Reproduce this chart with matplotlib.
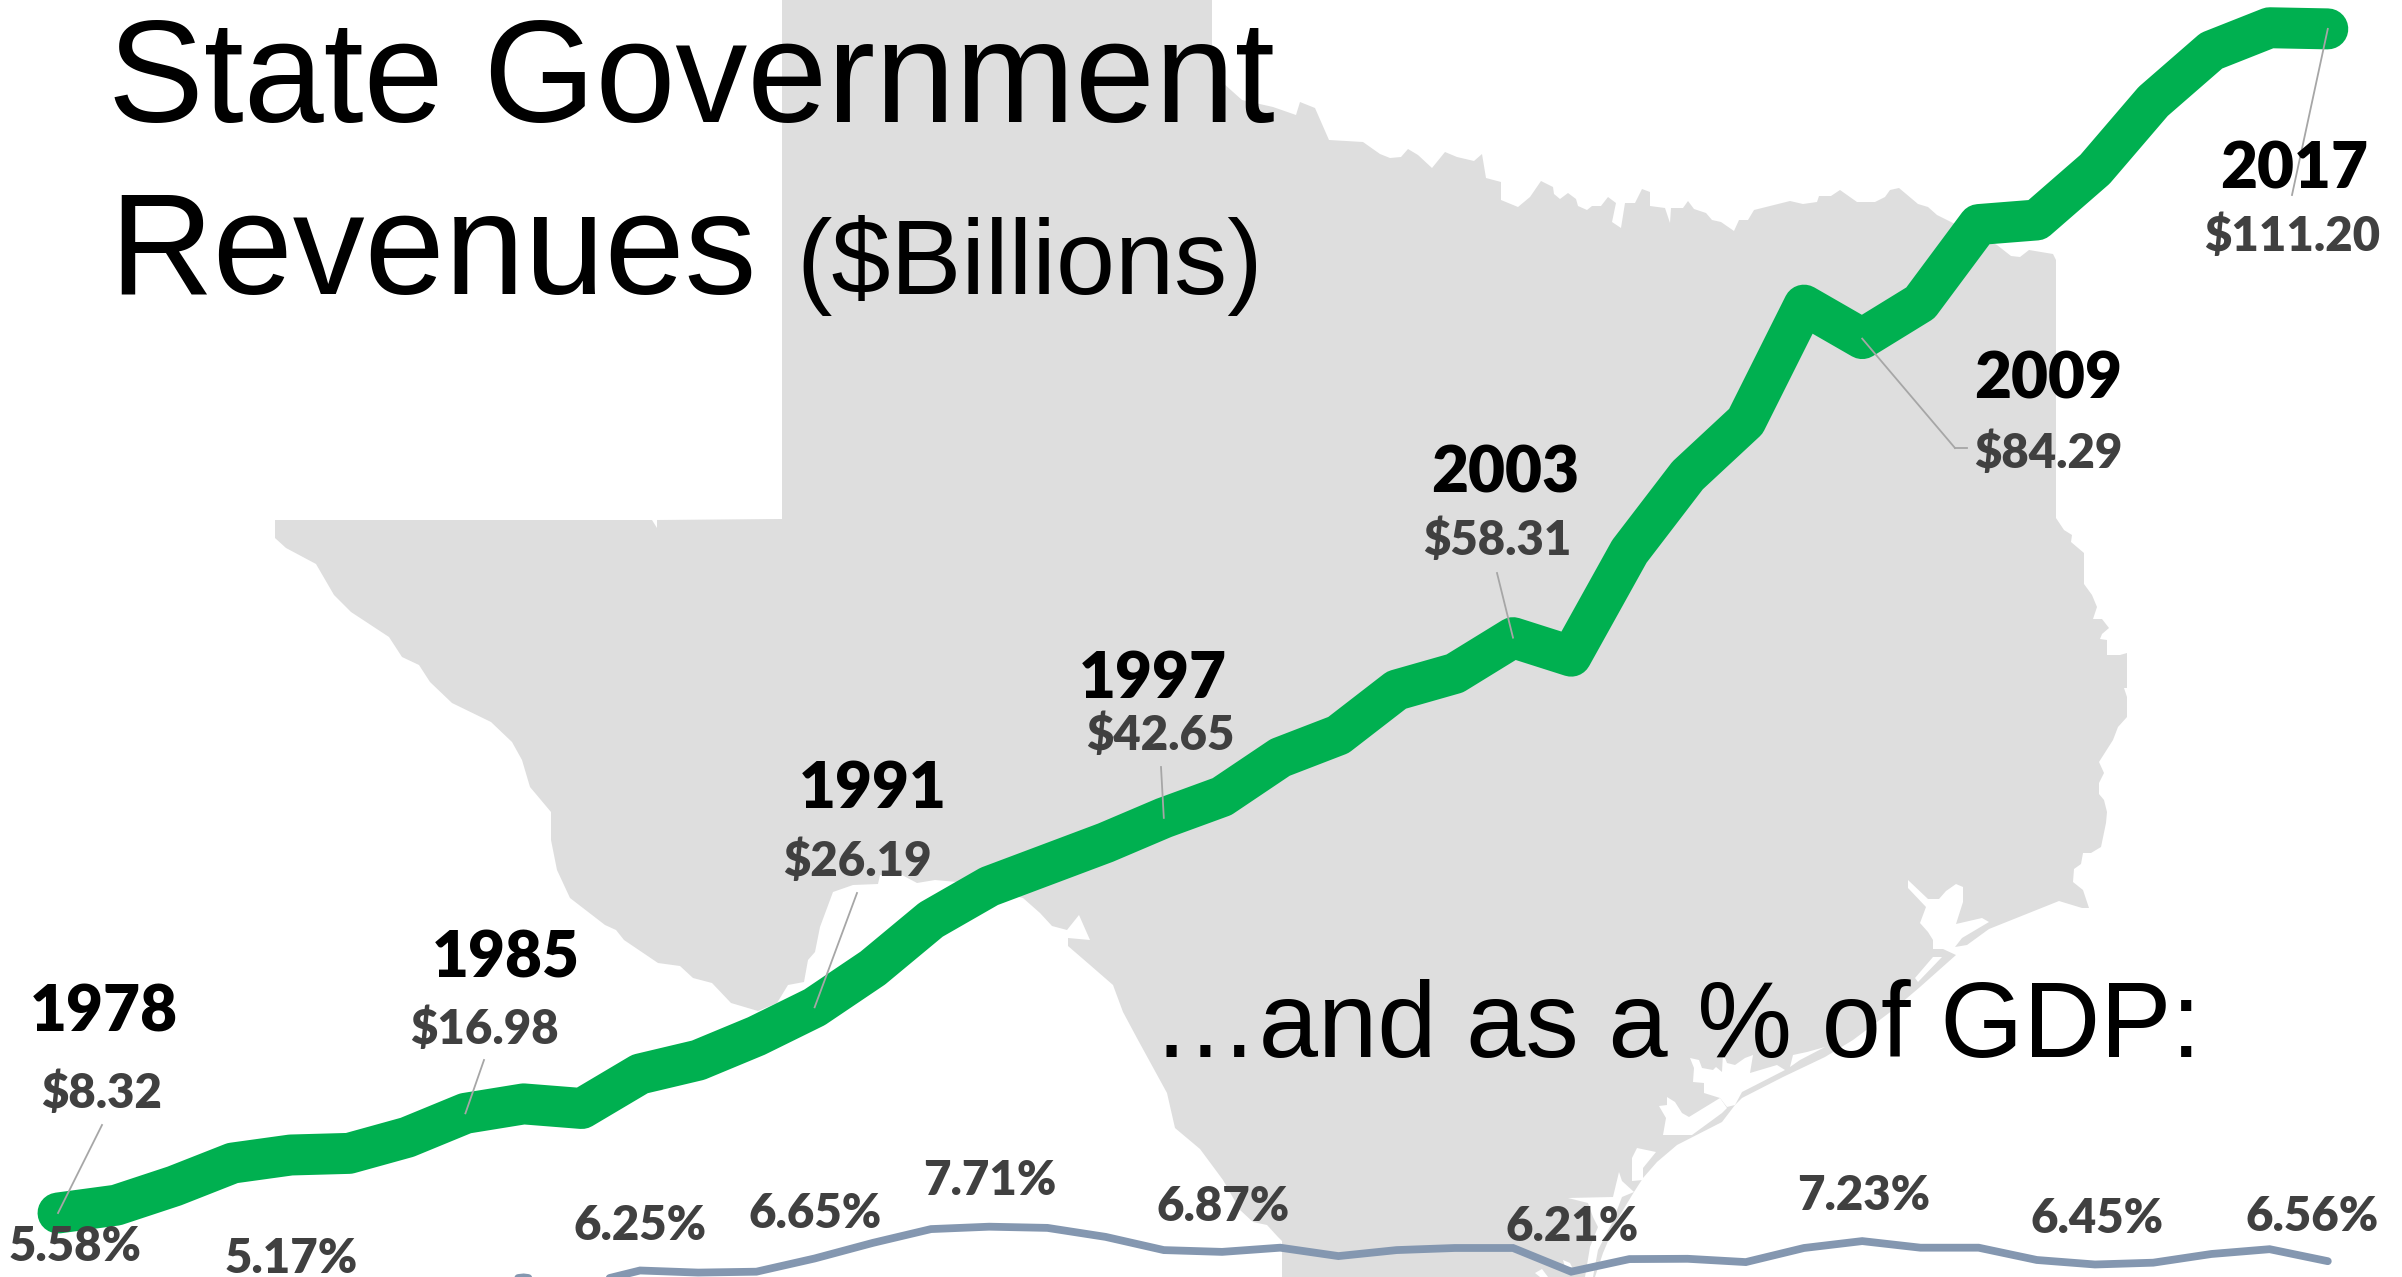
import matplotlib
matplotlib.use('Agg')
import matplotlib.pyplot as plt
from matplotlib.patches import Polygon

years = list(range(1978, 2018))

# state government revenues, $ billions
revenues = [8.32, 9.0, 10.67, 12.66, 13.36, 13.5, 14.9, 16.98, 17.8, 17.4,
            20.4, 21.6, 23.7, 26.19, 29.6, 33.8, 36.7, 38.6, 40.5, 42.65,
            44.5, 47.9, 49.85, 53.76, 55.2, 58.31, 56.7, 65.8, 72.4, 77.1,
            87.2, 84.29, 87.4, 94.2, 94.6, 99.0, 104.9, 109.3, 111.3, 111.20]

# same revenues as a share of GDP, %
gdp_share = [5.58, 5.45, 5.3, 5.17, 5.35, 5.45, 5.55, 5.8, 6.02, 5.77,
             6.25, 6.18, 6.21, 6.65, 7.17, 7.63, 7.71, 7.67, 7.37, 6.93,
             6.87, 7.01, 6.73, 6.93, 7.0, 7.0, 6.21, 6.63, 6.64, 6.53,
             7.0, 7.23, 7.01, 7.01, 6.6, 6.45, 6.51, 6.8, 6.96, 6.56]

revenue_label_years = [1978, 1985, 1991, 1997, 2003, 2009, 2017]
gdp_label_years = [1978, 1981, 1988, 1991, 1994, 1998, 2004, 2009, 2013, 2017]

# label centres and leader starts, in figure pixels
year_label_xy = [(104, 1013), (506, 959), (873, 790), (1153, 679), (1505, 474), (2048, 380), (2294, 170)]
value_label_xy = [(102, 1094), (484, 1030), (857, 862), (1160, 736), (1497, 541), (2048, 454), (2292, 237)]
leader_xy = [(102, 1125), (484, 1060), (857, 893), (1161, 767), (1497, 573), (1955, 448), (2292, 195)]
gdp_label_xy = [(75, 1247), (291, 1259), (640, 1226), (815, 1214), (990, 1181),
                (1223, 1207), (1572, 1227), (1864, 1196), (2097, 1219), (2312, 1217)]

# Texas outline behind the lines, in figure pixels
texas = [(782, 0), (1212, 0), (1212, 67), (1223, 83), (1242, 100), (1273, 107), (1296, 115), (1300, 102),
         (1315, 108), (1329, 140), (1363, 142), (1380, 154), (1390, 158), (1401, 157), (1408, 149), (1418, 155),
         (1432, 168), (1445, 152), (1457, 157), (1474, 161), (1482, 154), (1486, 178), (1501, 182), (1501, 200),
         (1518, 207), (1530, 197), (1541, 181), (1553, 187), (1554, 194), (1560, 199), (1568, 193), (1576, 199),
         (1578, 206), (1587, 210), (1592, 206), (1601, 206), (1608, 197), (1616, 203), (1612, 222), (1621, 228),
         (1625, 203), (1635, 203), (1642, 189), (1650, 192), (1650, 206), (1665, 208), (1670, 223), (1671, 208),
         (1683, 208), (1688, 201), (1694, 209), (1706, 213), (1712, 220), (1721, 222), (1734, 231), (1739, 220),
         (1748, 220), (1754, 210), (1790, 201), (1803, 204), (1817, 202), (1819, 196), (1831, 196), (1840, 190),
         (1857, 202), (1875, 202), (1885, 197), (1890, 190), (1899, 188), (1918, 204), (1928, 207), (1937, 215),
         (1967, 230), (1997, 245), (2011, 256), (2020, 257), (2029, 250), (2053, 254), (2056, 260), (2056, 518),
         (2064, 530), (2072, 535), (2071, 542), (2084, 553), (2084, 584), (2092, 595), (2097, 607), (2093, 619),
         (2102, 619), (2109, 628), (2102, 634), (2100, 639), (2107, 640), (2107, 655), (2120, 655), (2127, 653),
         (2127, 688), (2124, 688), (2127, 697), (2127, 717), (2118, 727), (2113, 740), (2099, 762), (2104, 773),
         (2099, 783), (2099, 794), (2104, 800), (2107, 812), (2106, 823), (2101, 847), (2091, 853), (2083, 853),
         (2081, 864), (2074, 869), (2073, 882), (2083, 890), (2089, 908), (2082, 908), (2059, 901), (1989, 929),
         (1967, 945), (1955, 947), (1962, 938), (1989, 922), (1982, 918), (1956, 924), (1963, 902), (1963, 887),
         (1956, 884), (1946, 891), (1939, 899), (1928, 899), (1908, 880), (1908, 888), (1926, 907), (1920, 923),
         (1928, 932), (1933, 940), (1933, 949), (1943, 949), (1956, 955), (1920, 987), (1893, 1010), (1853, 1040),
         (1825, 1057), (1783, 1077), (1742, 1098), (1735, 1105), (1722, 1122), (1677, 1145), (1657, 1162),
         (1643, 1178), (1634, 1192), (1617, 1220), (1603, 1253), (1595, 1277), (1282, 1277), (1282, 1241),
         (1278, 1237), (1267, 1225), (1253, 1222), (1240, 1210), (1223, 1180), (1200, 1149), (1175, 1128),
         (1167, 1093), (1138, 1040), (1123, 1012), (1113, 985), (1090, 965), (1068, 946), (1068, 938), (1090, 940),
         (1079, 915), (1067, 930), (1052, 926), (1040, 913), (1023, 898), (957, 882), (935, 880), (917, 883),
         (902, 875), (880, 875), (878, 884), (853, 885), (833, 892), (820, 927), (815, 952), (808, 960), (804, 982),
         (788, 985), (777, 1003), (758, 1011), (731, 1003), (712, 983), (693, 978), (680, 966), (658, 963),
         (624, 940), (616, 930), (605, 925), (570, 898), (557, 870), (551, 840), (551, 812), (530, 787), (522, 760),
         (512, 742), (491, 722), (452, 703), (430, 682), (419, 665), (402, 657), (389, 637), (351, 612), (334, 595),
         (316, 564), (286, 548), (275, 538), (275, 520), (652, 520), (657, 528), (657, 520), (782, 519)]

# bays and lagoons along the coast
bays = [
    [(1933, 957), (1942, 957), (1918, 982), (1915, 978)],
    [(1790, 1067), (1793, 1055), (1807, 1052), (1825, 1047), (1800, 1060)],
    [(1690, 1058), (1699, 1060), (1702, 1068), (1713, 1070), (1716, 1067), (1722, 1072), (1723, 1053), (1727, 1063),
     (1735, 1065), (1745, 1058), (1753, 1055), (1750, 1073), (1777, 1065), (1785, 1070), (1742, 1092), (1735, 1105),
     (1727, 1107), (1720, 1098), (1704, 1093), (1704, 1083), (1693, 1082), (1694, 1068)],
    [(1667, 1097), (1675, 1102), (1682, 1113), (1689, 1117), (1720, 1098), (1727, 1108), (1722, 1113), (1692, 1135),
     (1663, 1135), (1666, 1118), (1659, 1106), (1667, 1105)],
    [(1637, 1148), (1656, 1152), (1643, 1168), (1643, 1180), (1632, 1181), (1632, 1158)],
    [(1619, 1172), (1622, 1181), (1634, 1192), (1622, 1197), (1612, 1223), (1598, 1250), (1593, 1277), (1585, 1277),
     (1590, 1247), (1598, 1227), (1593, 1217), (1588, 1203), (1568, 1198), (1613, 1197)],
    [(1563, 1260), (1570, 1263), (1572, 1267), (1565, 1267)],
    [(1535, 1273), (1542, 1269), (1548, 1277), (1540, 1277)],
]

W, H = 2402, 1277
fig = plt.figure(figsize=(W / 100, H / 100), dpi=100, facecolor='white')


def layer(xlim, ylim):
    a = fig.add_axes([0, 0, 1, 1], facecolor='none')
    a.set_xlim(*xlim)
    a.set_ylim(*ylim)
    a.axis('off')
    return a


# map in pixel space
bg = layer((0, W), (H, 0))
bg.add_patch(Polygon(texas, closed=True, fc='#DEDEDE', ec='none'))
for bay in bays:
    bg.add_patch(Polygon(bay, closed=True, fc='white', ec='none'))

year_lim = (1977.003, 2018.275)

ax = layer(year_lim, (2.76, 113.71))
ax.plot(years, revenues, color='#00B050', lw=29.5, solid_capstyle='round', solid_joinstyle='round')

ax2 = layer(year_lim, (6.033, 48.6))
ax2.plot(years, gdp_share, color='#8497B0', lw=5.6, solid_capstyle='round', solid_joinstyle='miter')

# labels and leaders on top, pixel space again
top = layer((0, W), (H, 0))

title_font = 'Liberation Sans'
top.text(108, 122, 'State Government', family=title_font, fontsize=103.5, color='black', va='baseline')
top.text(109, 294, 'Revenues', family=title_font, fontsize=103.5, color='black', va='baseline')
top.text(796, 294, '($Billions)', family=title_font, fontsize=76.5, color='black', va='baseline')
top.text(1152, 1057, '…and as a % of GDP:', family=title_font, fontsize=76.8, color='black', va='baseline')

label_font = 'Lato'
for yr, yxy, vxy, lxy in zip(revenue_label_years, year_label_xy, value_label_xy, leader_xy):
    val = revenues[years.index(yr)]
    px = ax.transData.transform((yr, val))
    end = top.transData.inverted().transform(px)
    top.plot([lxy[0], end[0]], [lxy[1], end[1]], color='#A6A6A6', lw=1.3)
    top.text(yxy[0], yxy[1], str(yr), family=label_font, weight='heavy', fontsize=46,
             color='black', ha='center', va='center')
    top.text(vxy[0], vxy[1], f'${val:.2f}', family=label_font, weight='heavy', fontsize=34,
             color='#404040', ha='center', va='center')

# 2009 leader has a short elbow into its label
top.plot([1955, 1967], [448, 448], color='#A6A6A6', lw=1.3)

for yr, xy in zip(gdp_label_years, gdp_label_xy):
    val = gdp_share[years.index(yr)]
    top.text(xy[0], xy[1], f'{val:.2f}%', family=label_font, weight='heavy', fontsize=34,
             color='#404040', ha='center', va='center')

fig.savefig('out.png', dpi=100, facecolor='white')
